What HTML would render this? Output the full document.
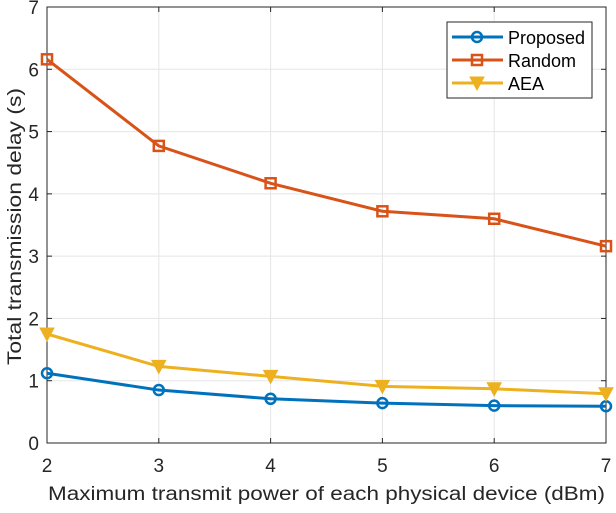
<!DOCTYPE html>
<html><head><meta charset="utf-8"><style>body{margin:0;background:#fff}svg text{font-family:"Liberation Sans",sans-serif}</style></head>
<body>
<svg id="c" width="616" height="508" xmlns="http://www.w3.org/2000/svg"></svg>
<script>
const categories=[2,3,4,5,6,7];
const proposed=[1.12,0.85,0.71,0.64,0.60,0.59];
const random=[6.16,4.77,4.17,3.72,3.60,3.16];
const aea=[1.75,1.23,1.07,0.91,0.87,0.79];
const yTicks=[0,1,2,3,4,5,6,7];
const xTicks=[2,3,4,5,6,7];
const L=47,R=606,T=7,B=443;
const sx=v=>L+(v-2)/(7-2)*(R-L);
const sy=v=>B-v/7*(B-T);
const svg=document.getElementById('c');
const NS='http://www.w3.org/2000/svg';
function mk(t,a,p){const e=document.createElementNS(NS,t);for(const k in a)e.setAttribute(k,a[k]);(p||svg).appendChild(e);return e;}
yTicks.forEach(v=>{const l=mk('line',{x1:L,x2:R,y1:sy(v),y2:sy(v),stroke:'#e5e5e5'});

});
xTicks.forEach(v=>{const l=mk('line',{x1:sx(v),x2:sx(v),y1:T,y2:B,stroke:'#e5e5e5'});

});
const box=mk('rect',{x:L,y:T,width:R-L,height:B-T,fill:'none',stroke:'#262626'});


yTicks.forEach(v=>{mk('line',{x1:L,x2:L+5,y1:sy(v),y2:sy(v),stroke:'#262626'});mk('line',{x1:R,x2:R-5,y1:sy(v),y2:sy(v),stroke:'#262626'});
const t=mk('text',{x:L-8,y:sy(v)+7,'text-anchor':'end','font-size':19,fill:'#262626'});t.textContent=v;

});
xTicks.forEach(v=>{mk('line',{x1:sx(v),x2:sx(v),y1:B,y2:B-5,stroke:'#262626'});mk('line',{x1:sx(v),x2:sx(v),y1:T,y2:T+5,stroke:'#262626'});
const t=mk('text',{x:sx(v),y:472,'text-anchor':'middle','font-size':19,fill:'#262626'});t.textContent=v;

});
const xt=mk('text',{x:48,y:500,'font-size':19,fill:'#262626',textLength:557,lengthAdjust:'spacingAndGlyphs'});xt.textContent='Maximum transmit power of each physical device (dBm)';


const yt=mk('text',{x:-277,y:0,'font-size':19,fill:'#262626',textLength:277,lengthAdjust:'spacingAndGlyphs',transform:`translate(21,88) rotate(-90) translate(0,0)`});
yt.setAttribute('x',-277);
yt.textContent='Total transmission delay (s)';


function marker(g,type,x,y,c){
 if(type==='o')mk('circle',{cx:x,cy:y,r:5,fill:'none',stroke:c,'stroke-width':2.5},g);
 else if(type==='s')mk('rect',{x:x-5,y:y-5,width:10,height:10,fill:'none',stroke:c,'stroke-width':2.5},g);
 else mk('path',{d:`M${x-7},${y-6}L${x+7},${y-6}L${x},${y+7}Z`,fill:c,stroke:c,'stroke-width':1},g);}
const series=[[proposed,'#0072bd','o','proposed'],[random,'#d95319','s','random'],[aea,'#edb120','v','aea']];
series.forEach(([d,c,m,n])=>{const g=mk('g',{});


mk('polyline',{points:d.map((v,i)=>sx(categories[i])+','+sy(v)).join(' '),fill:'none',stroke:c,'stroke-width':3},g);
d.forEach((v,i)=>marker(g,m,sx(categories[i]),sy(v),c));});
const lg=mk('g',{});


mk('rect',{x:447,y:22,width:145,height:76,fill:'#fff',stroke:'#262626'},lg);
const names=['Proposed','Random','AEA'];
series.forEach(([d,c,m],i)=>{const y=37+i*23;
mk('line',{x1:452,x2:503,y1:y,y2:y,stroke:c,'stroke-width':3},lg);marker(lg,m,477,y,c);
const t=mk('text',{x:508,y:y+7,'font-size':18,fill:'#000'},lg);t.textContent=names[i];

});
</script>
</body></html>
